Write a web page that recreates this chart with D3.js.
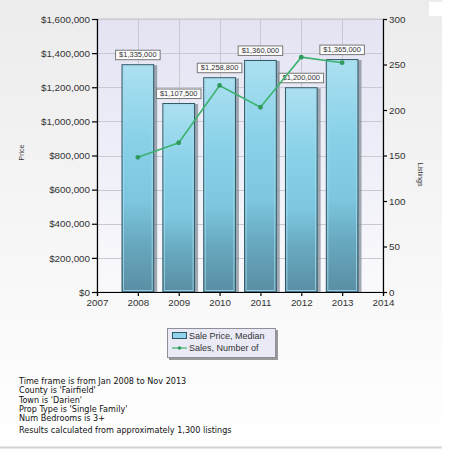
<!DOCTYPE html>
<html>
<head>
<meta charset="utf-8">
<script src="https://cdn.jsdelivr.net/npm/d3@7"></script>
<style>
body { margin: 0; background: #fff; }
text { font-family: "Liberation Sans", Arial, sans-serif; }
</style>
</head>
<body>
<div id="chart"></div>
<script>
// chart data
var years = [2008, 2009, 2010, 2011, 2012, 2013];
var medianPrice = [1335000, 1107500, 1258800, 1360000, 1200000, 1365000];
var salesCount = [148, 164, 227, 203, 258, 252];
var priceTicks = [0, 200000, 400000, 600000, 800000, 1000000, 1200000, 1400000, 1600000];
var listingTicks = [0, 50, 100, 150, 200, 250, 300];
var yearTicks = [2007, 2008, 2009, 2010, 2011, 2012, 2013, 2014];
var legendLabels = ["Sale Price, Median", "Sales, Number of"];
var footerLines = [
	"Time frame is from Jan 2008 to Nov 2013",
	"County is 'Fairfield'",
	"Town is 'Darien'",
	"Prop Type is 'Single Family'",
	"Num Bedrooms is 3+",
	"Results calculated from approximately 1,300 listings"
];

var W = 462, H = 457;
var margin = {top: 19, right: 79, bottom: 165, left: 97},
	width = W - margin.left - margin.right,
	height = H - margin.top - margin.bottom;

var root = d3.select("#chart")
	.append("svg")
		.attr("width", W)
		.attr("height", H);

var defs = root.append("defs");
var pg = defs.append("linearGradient").attr("id", "panelGrad")
	.attr("x1", 0).attr("y1", 0).attr("x2", 0).attr("y2", 1);
pg.append("stop").attr("offset", "0%").attr("stop-color", "#ececec");
pg.append("stop").attr("offset", "100%").attr("stop-color", "#ffffff");

var bg = defs.append("linearGradient").attr("id", "plotGrad")
	.attr("x1", 0).attr("y1", 0).attr("x2", 0).attr("y2", 1);
bg.append("stop").attr("offset", "0%").attr("stop-color", "#e3e3f3");
bg.append("stop").attr("offset", "100%").attr("stop-color", "#fafafd");

var barGrad = defs.append("linearGradient").attr("id", "barGrad")
	.attr("x1", 0).attr("y1", 0).attr("x2", 0).attr("y2", 1);
barGrad.append("stop").attr("offset", "0%").attr("stop-color", "#ace0f1");
barGrad.append("stop").attr("offset", "35%").attr("stop-color", "#86d0e8");
barGrad.append("stop").attr("offset", "60%").attr("stop-color", "#7cc6df");
barGrad.append("stop").attr("offset", "78%").attr("stop-color", "#68a9c0");
barGrad.append("stop").attr("offset", "100%").attr("stop-color", "#5a8ea3");

// outer panel
root.append("rect")
	.attr("x", 0).attr("y", 0)
	.attr("width", 442).attr("height", 446)
	.attr("fill", "url(#panelGrad)");
root.append("rect")
	.attr("x", 429).attr("y", 2)
	.attr("width", 13).attr("height", 14)
	.attr("fill", "#fff");
root.append("line")
	.attr("x1", 0).attr("x2", 442)
	.attr("y1", 447.5).attr("y2", 447.5)
	.attr("stroke", "#d4d4d4")
	.attr("stroke-width", 2);

var svg = root.append("g")
	.attr("transform", "translate(" + margin.left + "," + margin.top + ")");

// scales
var xScale = d3.scaleLinear().domain([2007, 2014]).range([0, width]);
var yScale = d3.scaleLinear().domain([0, 1600000]).range([height, 0]);
var y2Scale = d3.scaleLinear().domain([0, 300]).range([height, 0]);

svg.append("rect")
	.attr("width", width).attr("height", height)
	.attr("fill", "url(#plotGrad)")
	.attr("stroke", "#c8c8d0");

// grid
svg.selectAll(".hgrid")
	.data(priceTicks.slice(1))
	.enter().append("line")
		.attr("class", "hgrid")
		.attr("x1", 0).attr("x2", width)
		.attr("y1", d => Math.round(yScale(d)) + 0.5)
		.attr("y2", d => Math.round(yScale(d)) + 0.5)
		.attr("stroke", "#c9c9d2");
svg.selectAll(".vgrid")
	.data(yearTicks.slice(1, -1))
	.enter().append("line")
		.attr("class", "vgrid")
		.attr("y1", 0).attr("y2", height)
		.attr("x1", d => Math.round(xScale(d)) + 0.5)
		.attr("x2", d => Math.round(xScale(d)) + 0.5)
		.attr("stroke", "#c9c9d2");

// bars
var barW = xScale(2007.8) - xScale(2007);
var bars = svg.selectAll(".bar")
	.data(years.map((y, i) => ({year: y, price: medianPrice[i]})))
	.enter().append("g")
		.attr("class", "bar");
bars.append("rect")
	.attr("x", d => xScale(d.year) - barW / 2 + 3)
	.attr("y", d => yScale(d.price) + 1)
	.attr("width", barW)
	.attr("height", d => height - yScale(d.price) - 1)
	.attr("fill", "#7b8791")
	.attr("opacity", 0.7);
bars.append("rect")
	.attr("x", d => xScale(d.year) - barW / 2 + 0.5)
	.attr("y", d => yScale(d.price) + 0.5)
	.attr("width", barW - 1)
	.attr("height", d => height - yScale(d.price) - 0.5)
	.attr("fill", "url(#barGrad)")
	.attr("stroke", "#2e5564");
bars.append("rect")
	.attr("x", d => xScale(d.year) - barW / 2 + 2)
	.attr("y", d => yScale(d.price) + 2)
	.attr("width", barW - 4)
	.attr("height", d => height - yScale(d.price) - 3.5)
	.attr("fill", "none")
	.attr("stroke", "#a6dbeb")
	.attr("stroke-opacity", 0.8);

// bar value labels
var fmt = d3.format("$,");
bars.each(function(d) {
	var g = d3.select(this);
	var t = g.append("text")
		.attr("x", xScale(d.year))
		.attr("y", yScale(d.price) - 7)
		.attr("text-anchor", "middle")
		.style("font-size", "7.5px")
		.attr("fill", "#333")
		.text(fmt(d.price));
	var tw = t.node().getComputedTextLength();
	g.insert("rect", "text")
		.attr("x", xScale(d.year) - tw / 2 - 3.5)
		.attr("y", yScale(d.price) - 14)
		.attr("width", tw + 7)
		.attr("height", 9.5)
		.attr("fill", "#fcfcfc")
		.attr("stroke", "#777");
});

// sales line
var line = d3.line()
	.x((d, i) => xScale(years[i]))
	.y(d => y2Scale(d));
svg.append("path")
	.datum(salesCount)
	.attr("d", line)
	.attr("fill", "none")
	.attr("stroke", "#3cb36f")
	.attr("stroke-width", 1.6);
svg.selectAll(".dot")
	.data(salesCount)
	.enter().append("circle")
		.attr("class", "dot")
		.attr("cx", (d, i) => xScale(years[i]))
		.attr("cy", d => y2Scale(d))
		.attr("r", 2.4)
		.attr("fill", "#2f9a5c");

// axes
var yAxis = d3.axisLeft(yScale).tickValues(priceTicks).tickSize(5).tickPadding(2)
	.tickFormat(d3.format("$,"));
var y2Axis = d3.axisRight(y2Scale).tickValues(listingTicks).tickSize(4).tickPadding(2);
var xAxis = d3.axisBottom(xScale).tickValues(yearTicks).tickSize(4).tickPadding(3)
	.tickFormat(d3.format("d"));

svg.append("g").attr("class", "y axis").call(yAxis);
svg.append("g").attr("class", "y2 axis")
	.attr("transform", "translate(" + width + ",0)")
	.call(y2Axis);
svg.append("g").attr("class", "x axis")
	.attr("transform", "translate(0," + height + ")")
	.call(xAxis);
svg.selectAll(".axis path, .axis line").attr("stroke", "#000").attr("stroke-width", 1.2);
svg.selectAll(".axis text")
	.style("font-size", "9.8px")
	.attr("fill", "#333");

// axis titles
svg.append("text")
	.attr("transform", "translate(" + (-73) + "," + (height / 2 - 3) + ") rotate(-90)")
	.attr("text-anchor", "middle")
	.style("font-size", "7px")
	.attr("fill", "#333")
	.text("Price");
svg.append("text")
	.attr("transform", "translate(" + (width + 35) + "," + (height / 2 + 19) + ") rotate(90)")
	.attr("text-anchor", "middle")
	.style("font-size", "7px")
	.attr("fill", "#333")
	.text("Listings");

// legend
var lg = root.append("g").attr("transform", "translate(167,328)");
lg.append("rect")
	.attr("x", 2).attr("y", 2)
	.attr("width", 109).attr("height", 30)
	.attr("fill", "#9a9a9a");
lg.append("rect")
	.attr("x", 0.5).attr("y", 0.5)
	.attr("width", 108).attr("height", 29)
	.attr("fill", "#eaeaf6")
	.attr("stroke", "#8f8f9a");
lg.append("rect")
	.attr("x", 5.5).attr("y", 4.5)
	.attr("width", 14).attr("height", 6)
	.attr("fill", "#8fd4ea")
	.attr("stroke", "#2e5564");
lg.append("line")
	.attr("x1", 5).attr("x2", 20)
	.attr("y1", 20).attr("y2", 20)
	.attr("stroke", "#3cb36f")
	.attr("stroke-width", 1.2);
lg.append("circle")
	.attr("cx", 12.5).attr("cy", 20)
	.attr("r", 1.8)
	.attr("fill", "#2f9a5c");
lg.selectAll(".ltext")
	.data(legendLabels)
	.enter().append("text")
		.attr("class", "ltext")
		.attr("x", 22)
		.attr("y", (d, i) => 10.5 + i * 12)
		.style("font-size", "9px")
		.attr("fill", "#333")
		.text(d => d);

// footer text
root.selectAll(".foot")
	.data(footerLines)
	.enter().append("text")
		.attr("class", "foot")
		.attr("x", 19)
		.attr("y", (d, i) => 384 + i * 9.3 + (i == 5 ? 2.5 : 0))
		.style("font-family", "'DejaVu Sans', Verdana, sans-serif")
		.style("font-stretch", "condensed")
		.style("font-size", "9px")
		.attr("fill", "#111")
		.text(d => d);
</script>
</body>
</html>
